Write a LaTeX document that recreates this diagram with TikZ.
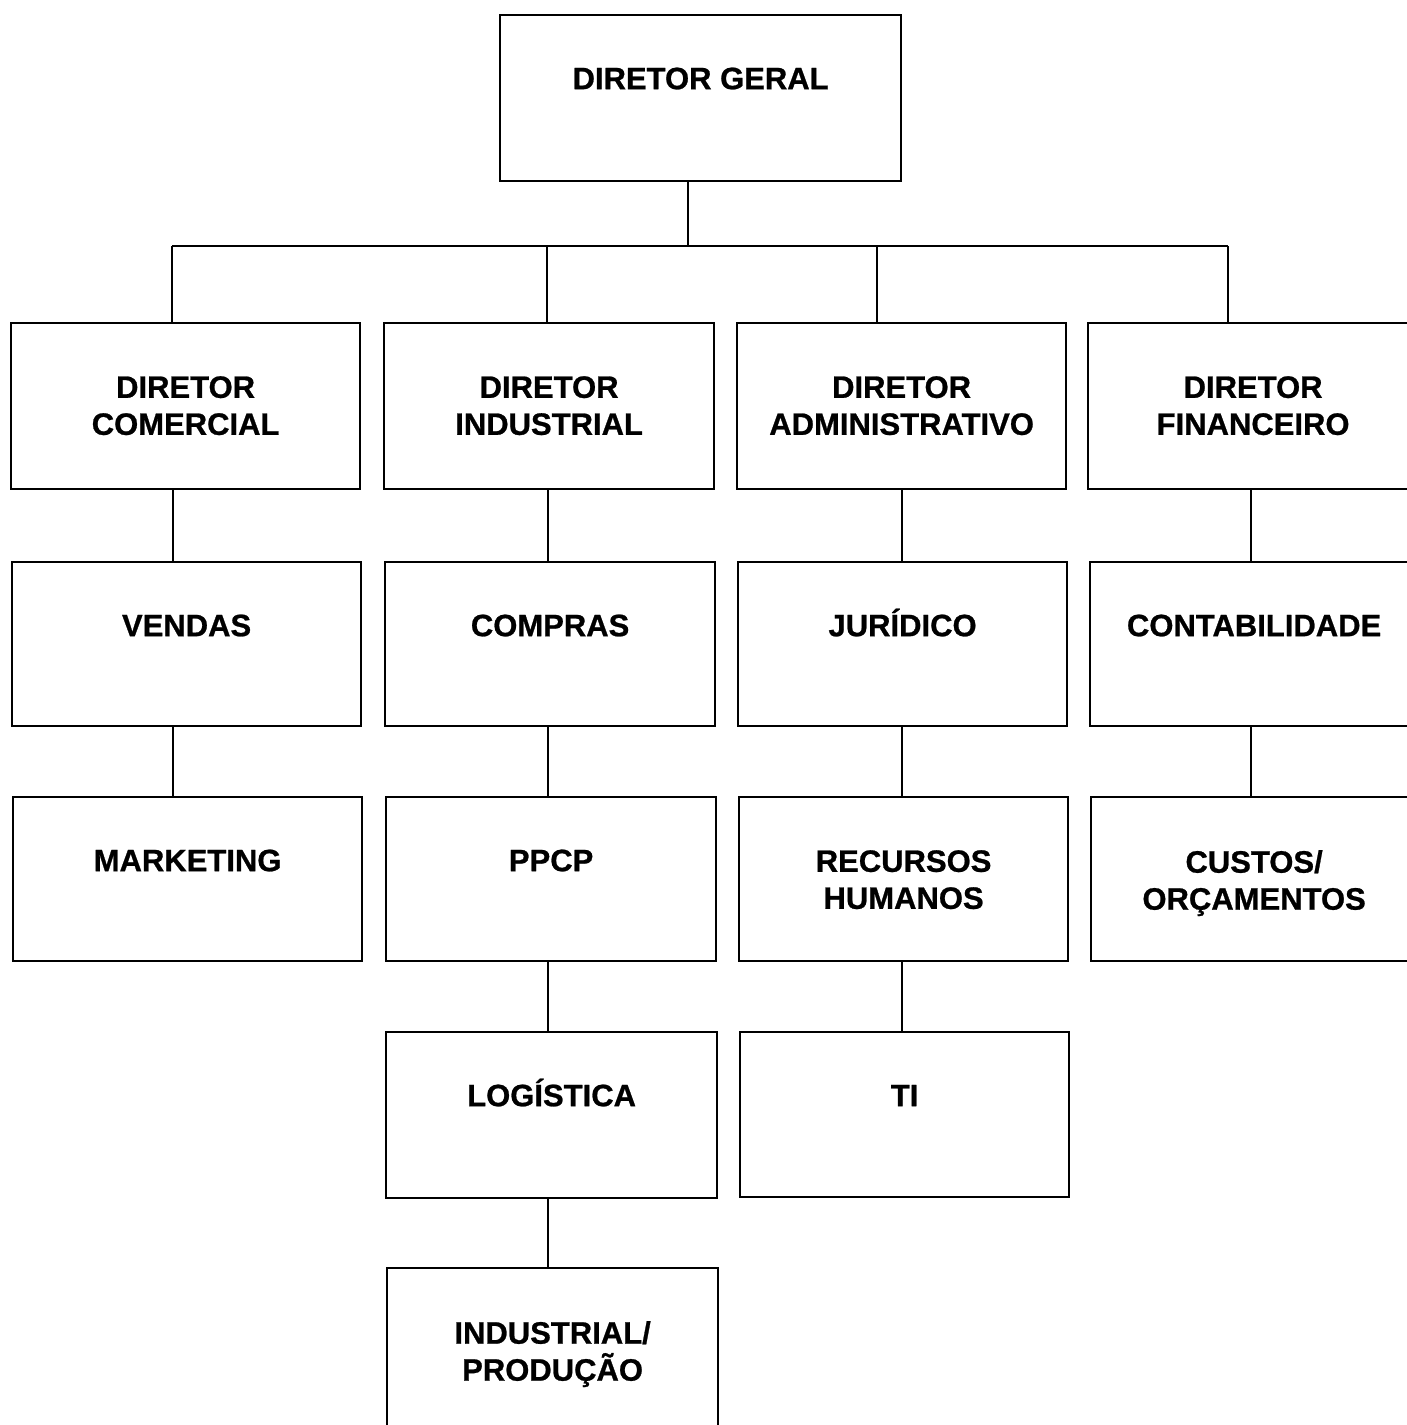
\documentclass[tikz,border=0pt]{standalone}
\usepackage{fontspec}
\setmainfont{Liberation Sans}[BoldFeatures={FakeBold=0.8}]
\newcommand\boxfont{\fontsize{31}{37}\selectfont\bfseries}
\begin{document}
\begin{tikzpicture}[x=1pt,y=-1pt,
  unit/.style={draw=black, line width=2.2pt, rectangle, anchor=north west,
    inner sep=0pt, minimum width=#1},
  unit/.default=330,
  tall/.style={minimum height=166},
  lab/.style={anchor=north, inner sep=0pt, align=center, font=\boxfont,
    execute at begin node={\rule{0pt}{30pt}}},
  lab2/.style={lab, yshift=-9pt},
  link/.style={line width=2pt}]
\useasboundingbox (0,0) rectangle (1407,1425);
\clip (0,0) rectangle (1407,1425);

% ---- boxes ----
\node[unit=401, tall] (dg) at (499,14) {};

\node[unit=349, tall] (dc) at (10,322) {};
\node[unit=330, tall] (di) at (383,322) {};
\node[unit=329, tall] (da) at (736,322) {};
\node[unit=330, tall] (df) at (1087,322) {};

\node[unit=349, minimum height=164] (ven) at (11,561) {};
\node[unit=330, minimum height=164] (com) at (384,561) {};
\node[unit=329, minimum height=164] (jur) at (737,561) {};
\node[unit=328, minimum height=164] (con) at (1089,561) {};

\node[unit=349, minimum height=164] (mkt) at (12,796) {};
\node[unit=330, minimum height=164] (ppc) at (385,796) {};
\node[unit=329, minimum height=164] (rh) at (738,796) {};
\node[unit=326, minimum height=164] (cus) at (1090,796) {};

\node[unit=331, tall] (log) at (385,1031) {};
\node[unit=329, minimum height=165] (ti) at (739,1031) {};

\node[unit=331, minimum height=200] (ind) at (386,1267) {};

% ---- labels ----
\node[lab] (tdg) at ([yshift=-45pt]dg.north) {DIRETOR GERAL};
\node[lab2] (tdc) at ([yshift=-45pt]dc.north) {DIRETOR\\COMERCIAL};
\node[lab2] (tdi) at ([yshift=-45pt]di.north) {DIRETOR\\INDUSTRIAL};
\node[lab2] (tda) at ([yshift=-45pt]da.north) {DIRETOR\\ADMINISTRATIVO};
\node[lab2] (tdf) at ([yshift=-45pt]df.north) {DIRETOR\\FINANCEIRO};
\node[lab] (tven) at ([yshift=-45pt]ven.north) {VENDAS};
\node[lab] (tcom) at ([yshift=-45pt]com.north) {COMPRAS};
\node[lab] (tjur) at ([yshift=-45pt]jur.north) {JURÍDICO};
\node[lab] (tcon) at ([yshift=-45pt]con.north) {CONTABILIDADE};
\node[lab] (tmkt) at ([yshift=-45pt]mkt.north) {MARKETING};
\node[lab] (tppc) at ([yshift=-45pt]ppc.north) {PPCP};
\node[lab2] (trh) at ([yshift=-45pt]rh.north) {RECURSOS\\HUMANOS};
\node[lab2] (tcus) at ([yshift=-45pt]cus.north) {CUSTOS/\\ORÇAMENTOS};
\node[lab] (tlog) at ([yshift=-45pt]log.north) {LOGÍSTICA};
\node[lab] (tti) at ([yshift=-45pt]ti.north) {TI};
\node[lab2] (tind) at ([yshift=-45pt]ind.north) {INDUSTRIAL/\\PRODUÇÃO};

% ---- connectors ----
\coordinate (top) at (688,246);
\coordinate (j1) at (172,246);
\coordinate (j2) at (547,246);
\coordinate (j3) at (877,246);
\coordinate (j4) at (1228,246);
\draw[link] (dg.south -| top) -- (top);
\draw[link] (j1) -- (j4);
\draw[link] (j1) -- (j1 |- dc.north);
\draw[link] (j2) -- (j2 |- di.north);
\draw[link] (j3) -- (j3 |- da.north);
\draw[link] (j4) -- (j4 |- df.north);

\coordinate (c1) at (173,0);
\coordinate (c2) at (548,0);
\coordinate (c3) at (902,0);
\coordinate (c4) at (1251,0);
\draw[link] (dc.south -| c1) -- (ven.north -| c1);
\draw[link] (ven.south -| c1) -- (mkt.north -| c1);
\draw[link] (di.south -| c2) -- (com.north -| c2);
\draw[link] (com.south -| c2) -- (ppc.north -| c2);
\draw[link] (ppc.south -| c2) -- (log.north -| c2);
\draw[link] (log.south -| c2) -- (ind.north -| c2);
\draw[link] (da.south -| c3) -- (jur.north -| c3);
\draw[link] (jur.south -| c3) -- (rh.north -| c3);
\draw[link] (rh.south -| c3) -- (ti.north -| c3);
\draw[link] (df.south -| c4) -- (con.north -| c4);
\draw[link] (con.south -| c4) -- (cus.north -| c4);
\end{tikzpicture}
\end{document}
